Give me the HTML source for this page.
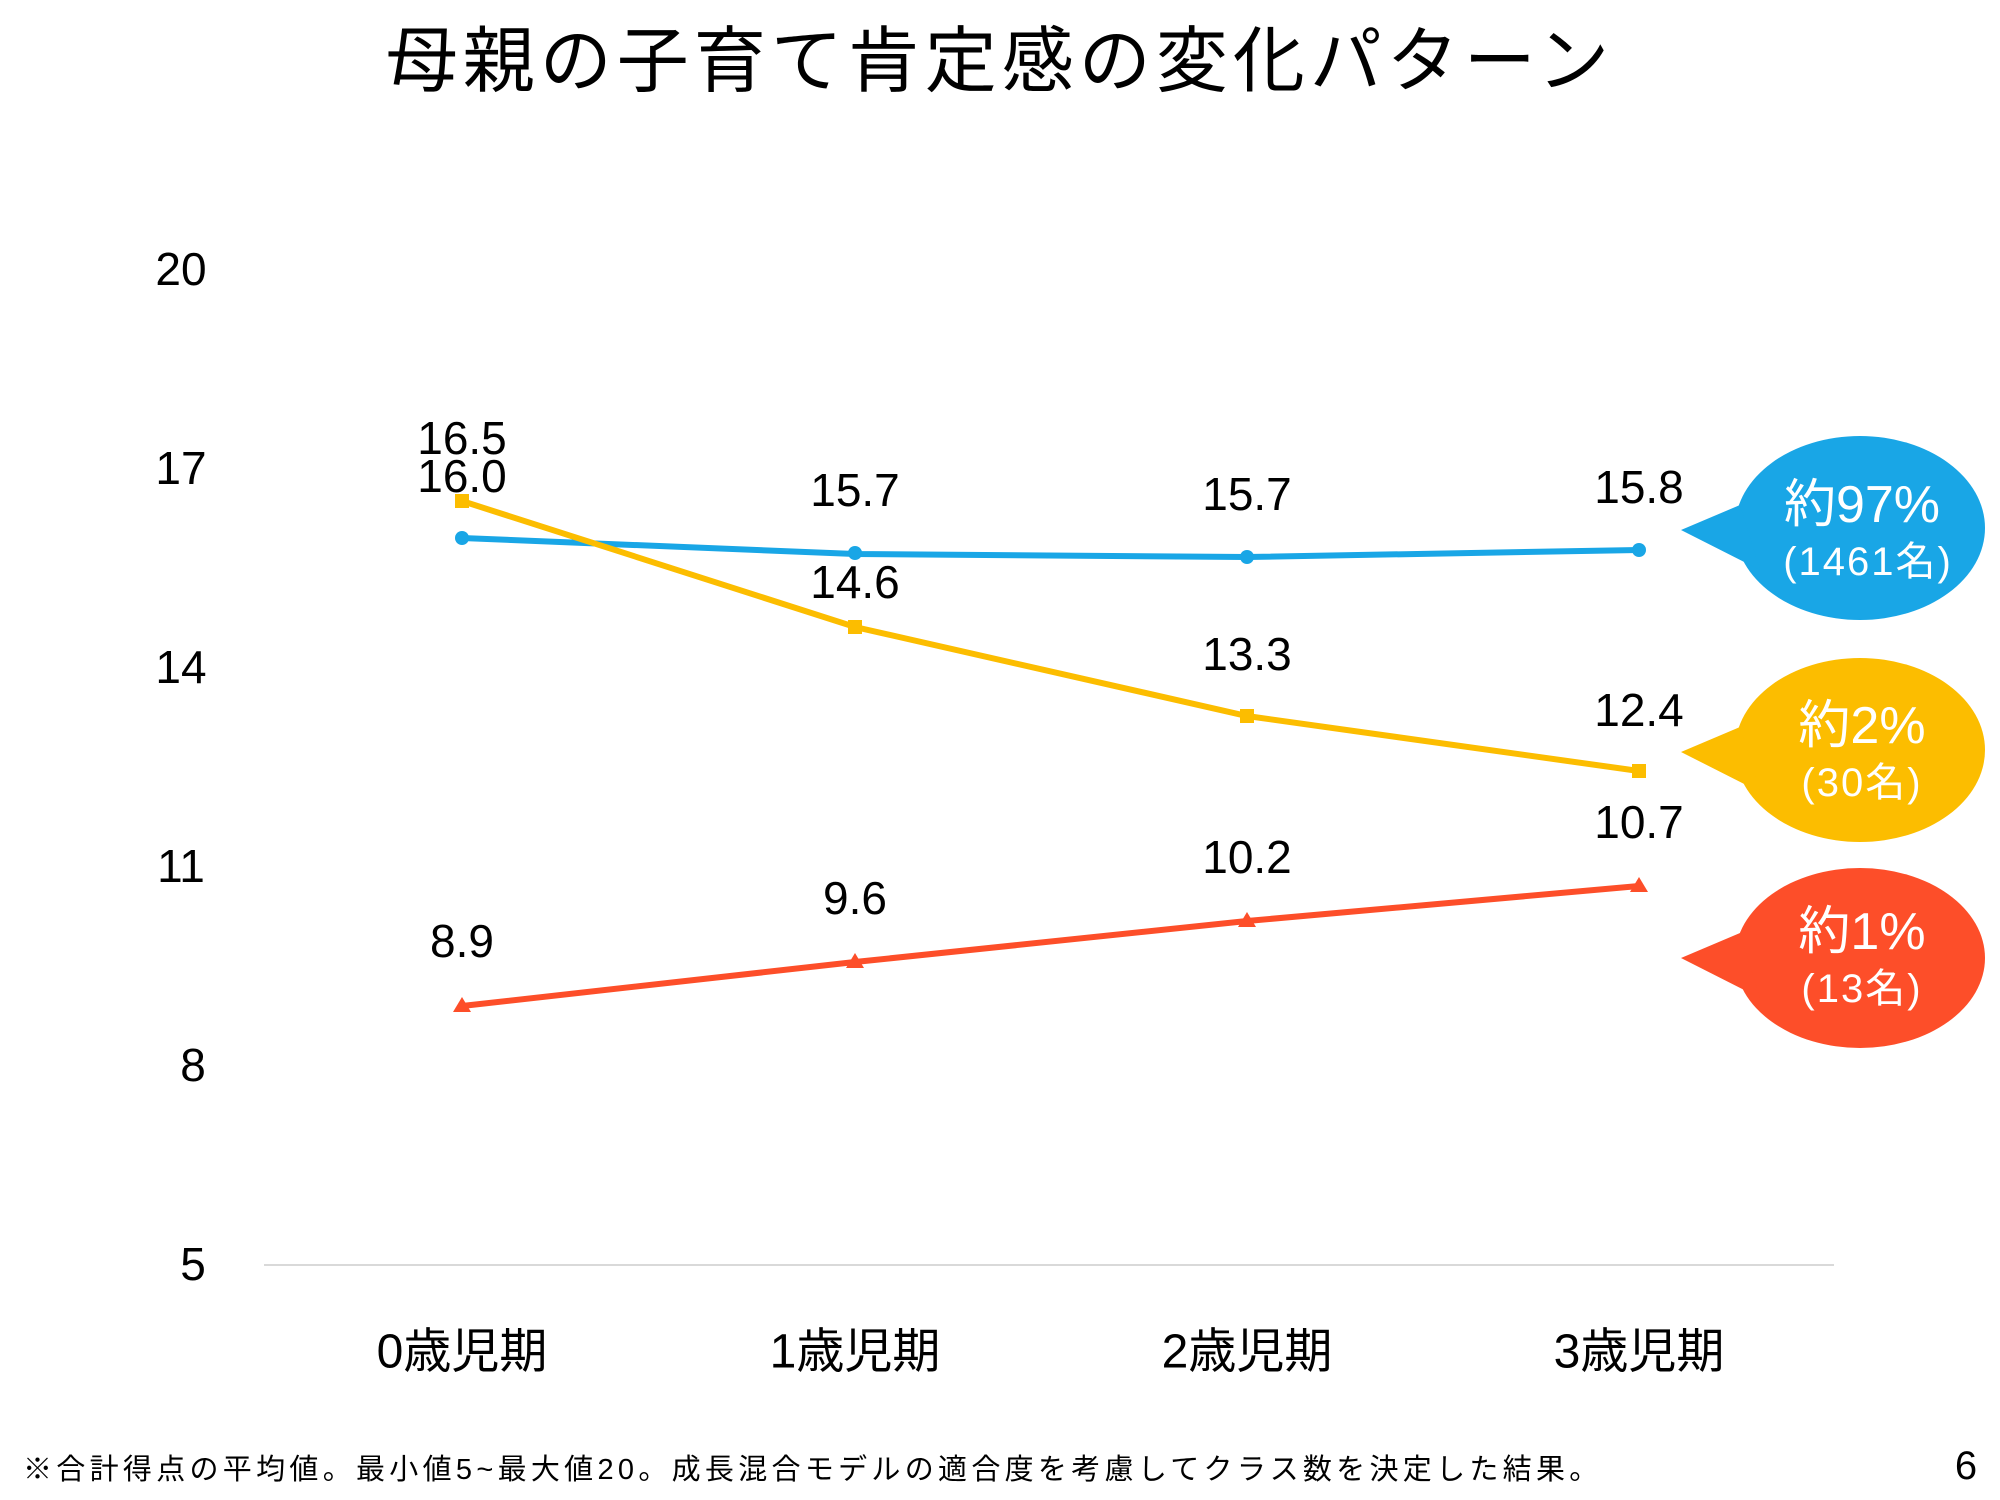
<!DOCTYPE html>
<html><head><meta charset="utf-8"><style>
html,body{margin:0;padding:0;background:#fff;}
svg{display:block;font-family:"Liberation Sans","Noto Sans CJK JP",sans-serif;}
</style></head><body>
<svg width="2000" height="1500" viewBox="0 0 2000 1500" xmlns="http://www.w3.org/2000/svg">
<text x="1000" y="62" font-size="72" text-anchor="middle" dominant-baseline="central" fill="#000" letter-spacing="5">母親の子育て肯定感の変化パターン</text>
<g font-size="46" fill="#000" text-anchor="middle" dominant-baseline="central">
<text x="181" y="269">20</text><text x="181" y="468">17</text><text x="181" y="667">14</text>
<text x="181" y="866">11</text><text x="193" y="1065">8</text><text x="193" y="1264">5</text>
</g>
<line x1="264" y1="1265" x2="1834" y2="1265" stroke="#d9d9d9" stroke-width="2"/>
<g font-size="48" fill="#000" text-anchor="middle" dominant-baseline="central">
<text x="462" y="1352">0歳児期</text><text x="855" y="1352">1歳児期</text>
<text x="1247" y="1352">2歳児期</text><text x="1639" y="1352">3歳児期</text>
</g>
<polyline points="462,538 855,554 1247,557 1639,550" fill="none" stroke="#19a6e6" stroke-width="6"/>
<g fill="#19a6e6"><circle cx="462" cy="538" r="7"/><circle cx="855" cy="553" r="7"/><circle cx="1247" cy="557" r="7"/><circle cx="1639" cy="550" r="7"/></g>
<polyline points="462,501 855,627 1247,716 1639,771" fill="none" stroke="#fcbd00" stroke-width="6"/>
<g fill="#fcbd00"><rect x="455" y="494" width="14" height="14"/><rect x="848" y="620" width="14" height="14"/><rect x="1240" y="709" width="14" height="14"/><rect x="1632" y="764" width="14" height="14"/></g>
<polyline points="462,1006 855,962 1247,921 1639,886" fill="none" stroke="#fd4e29" stroke-width="6"/>
<g fill="#fd4e29">
<polygon points="462,997 471,1012 453,1012"/><polygon points="855,953 864,968 846,968"/>
<polygon points="1247,912 1256,927 1238,927"/><polygon points="1639,877 1648,892 1630,892"/>
</g>
<g font-size="46" fill="#000" text-anchor="middle" dominant-baseline="central">
<text x="462" y="438">16.5</text><text x="462" y="476">16.0</text>
<text x="855" y="490">15.7</text><text x="1247" y="494">15.7</text><text x="1639" y="487">15.8</text>
<text x="855" y="582">14.6</text><text x="1247" y="654">13.3</text><text x="1639" y="710">12.4</text>
<text x="462" y="941">8.9</text><text x="855" y="898">9.6</text><text x="1247" y="857">10.2</text><text x="1639" y="822">10.7</text>
</g>
<g>
<ellipse cx="1860" cy="528" rx="125" ry="92" fill="#19a6e6"/>
<polygon points="1681,530 1740,505 1760,570" fill="#19a6e6"/>
<ellipse cx="1860" cy="750" rx="125" ry="92" fill="#fcbd00"/>
<polygon points="1681,752 1740,727 1760,792" fill="#fcbd00"/>
<ellipse cx="1860" cy="958" rx="125" ry="90" fill="#fd4e29"/>
<polygon points="1681,958 1740,933 1760,998" fill="#fd4e29"/>
</g>
<g fill="#fff" text-anchor="middle" dominant-baseline="central">
<text x="1862" y="505" font-size="52">約97%</text><text x="1868" y="562" font-size="40" letter-spacing="2">(1461名)</text>
<text x="1862" y="726" font-size="52">約2%</text><text x="1862" y="783" font-size="40" letter-spacing="2">(30名)</text>
<text x="1862" y="932" font-size="52">約1%</text><text x="1862" y="989" font-size="40" letter-spacing="2">(13名)</text>
</g>
<text x="23" y="1470" font-size="29" fill="#000" dominant-baseline="central" letter-spacing="4.3">※合計得点の平均値。最小値5~最大値20。成長混合モデルの適合度を考慮してクラス数を決定した結果。</text>
<text x="1966" y="1466" font-size="40" fill="#000" text-anchor="middle" dominant-baseline="central">6</text>
</svg>
</body></html>
